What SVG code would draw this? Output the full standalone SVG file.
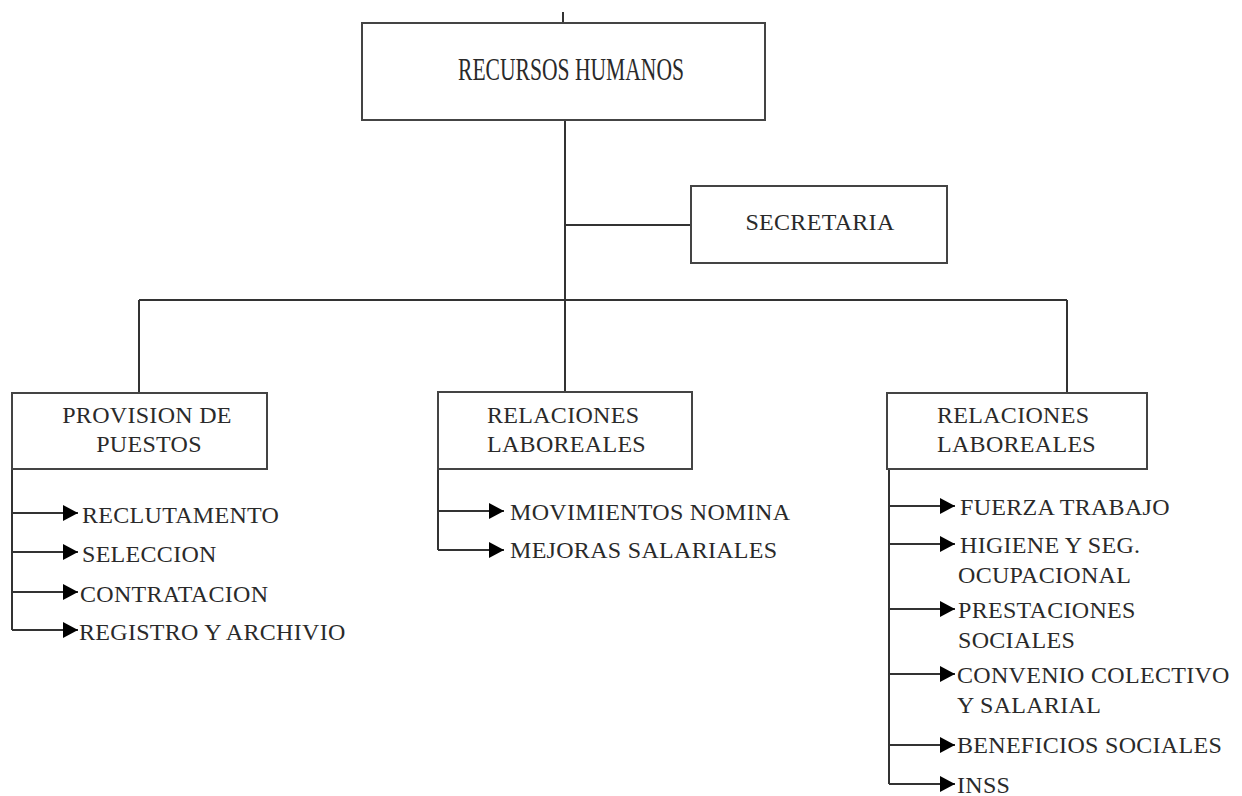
<svg xmlns="http://www.w3.org/2000/svg" width="1242" height="796" viewBox="0 0 1242 796">
<style>
.box{fill:#fff;stroke:#444;stroke-width:2}
.ln{fill:none;stroke:#333;stroke-width:2}
.t{font-family:"Liberation Serif","Times New Roman",serif;font-size:24px;fill:#2a2a2a;letter-spacing:0.3px}
.c{text-anchor:middle}
</style>
<defs>
<marker id="ah" markerUnits="userSpaceOnUse" markerWidth="15" markerHeight="16" refX="15" refY="8" orient="auto">
<path d="M0,0 L15,8 L0,16 z" fill="#000"/>
</marker>
</defs>
<rect width="1242" height="796" fill="#fff"/>
<g id="connectors">
<path class="ln" d="M563,12 V23"/>
<path class="ln" d="M565,120 V392"/>
<path class="ln" d="M565,225 H691"/>
<path class="ln" d="M139,300 H1067"/>
<path class="ln" d="M139,300 V393"/>
<path class="ln" d="M1067,300 V393"/>
<path class="ln" d="M12,469 V630"/>
<path class="ln" d="M12,513 H78" marker-end="url(#ah)"/>
<path class="ln" d="M12,552 H78" marker-end="url(#ah)"/>
<path class="ln" d="M12,592 H78" marker-end="url(#ah)"/>
<path class="ln" d="M12,630 H78" marker-end="url(#ah)"/>
<path class="ln" d="M438,469 V550"/>
<path class="ln" d="M438,511 H504" marker-end="url(#ah)"/>
<path class="ln" d="M438,550 H504" marker-end="url(#ah)"/>
<path class="ln" d="M889,469 V784"/>
<path class="ln" d="M889,506 H955" marker-end="url(#ah)"/>
<path class="ln" d="M889,544 H955" marker-end="url(#ah)"/>
<path class="ln" d="M889,609 H955" marker-end="url(#ah)"/>
<path class="ln" d="M889,674 H955" marker-end="url(#ah)"/>
<path class="ln" d="M889,745 H955" marker-end="url(#ah)"/>
<path class="ln" d="M889,784 H955" marker-end="url(#ah)"/>
</g>
<g id="recursos-humanos">
<rect class="box" x="362" y="23" width="403" height="97"/>
<text class="t" x="458" y="80" style="font-size:32px;letter-spacing:0" textLength="226" lengthAdjust="spacingAndGlyphs">RECURSOS HUMANOS</text>
</g>
<g id="secretaria">
<rect class="box" x="691" y="186" width="256" height="77"/>
<text class="t c" x="820" y="230">SECRETARIA</text>
</g>
<g id="provision-de-puestos">
<rect class="box" x="12" y="393" width="255" height="76"/>
<text class="t c" x="147" y="423">PROVISION DE</text>
<text class="t c" x="149" y="452">PUESTOS</text>
</g>
<g id="relaciones-laboreales-1">
<rect class="box" x="438" y="392" width="254" height="77"/>
<text class="t" x="487" y="423">RELACIONES</text>
<text class="t" x="487" y="452">LABOREALES</text>
</g>
<g id="relaciones-laboreales-2">
<rect class="box" x="887" y="393" width="260" height="76"/>
<text class="t" x="937" y="423">RELACIONES</text>
<text class="t" x="937" y="452">LABOREALES</text>
</g>
<g id="provision-items">
<text class="t" x="82" y="523">RECLUTAMENTO</text>
<text class="t" x="82" y="562">SELECCION</text>
<text class="t" x="80" y="602">CONTRATACION</text>
<text class="t" x="79" y="640">REGISTRO Y ARCHIVIO</text>
</g>
<g id="relaciones1-items">
<text class="t" x="510" y="520">MOVIMIENTOS NOMINA</text>
<text class="t" x="510" y="558">MEJORAS SALARIALES</text>
</g>
<g id="relaciones2-items">
<text class="t" x="960" y="515">FUERZA TRABAJO</text>
<text class="t" x="960" y="553">HIGIENE Y SEG.</text>
<text class="t" x="958" y="583">OCUPACIONAL</text>
<text class="t" x="958" y="618">PRESTACIONES</text>
<text class="t" x="958" y="648">SOCIALES</text>
<text class="t" x="957" y="683">CONVENIO COLECTIVO</text>
<text class="t" x="957" y="713">Y SALARIAL</text>
<text class="t" x="957" y="753">BENEFICIOS SOCIALES</text>
<text class="t" x="957" y="793">INSS</text>
</g>
</svg>
